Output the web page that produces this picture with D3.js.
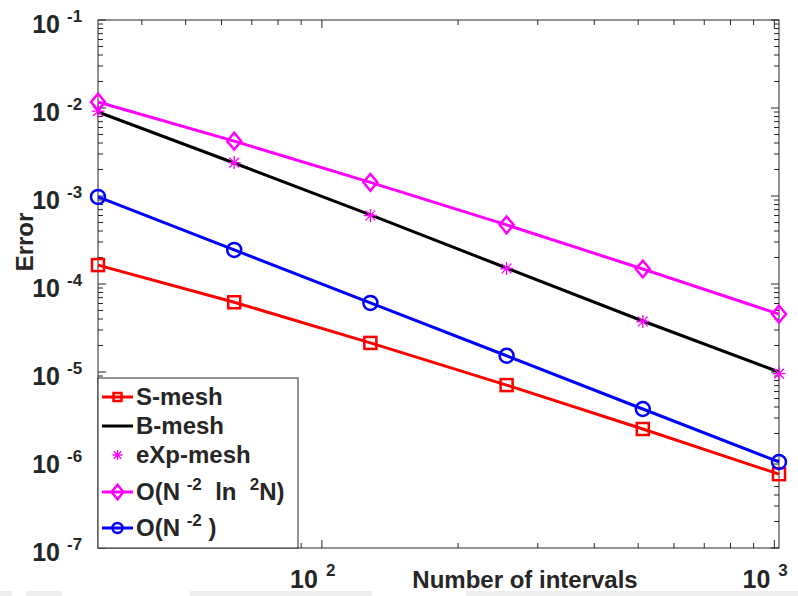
<!DOCTYPE html>
<html>
<head>
<meta charset="utf-8">
<script src="https://d3js.org/d3.v7.min.js"></script>
<style>
  body { margin: 0; background: #fff; }
  text { font-family: "Liberation Sans", Arial, sans-serif; font-weight: bold; fill: #262626; white-space: pre; }
</style>
</head>
<body>
<svg id="chart" width="798" height="596"></svg>
<script>
// number of intervals
var N = [32, 64, 128, 256, 512, 1024];
// errors
var sMesh   = [1.64e-4, 6.2e-5, 2.14e-5, 7.1e-6, 2.25e-6, 6.9e-7];
var bMesh   = [9.0e-3, 2.37e-3, 6.1e-4, 1.52e-4, 3.8e-5, 1.0e-5];
var expMesh = [9.2e-3, 2.4e-3, 6.0e-4, 1.5e-4, 3.75e-5, 9.6e-6];
var rateLog = [1.17e-2, 4.2e-3, 1.43e-3, 4.7e-4, 1.48e-4, 4.55e-5];
var rate2   = [9.77e-4, 2.44e-4, 6.1e-5, 1.53e-5, 3.8e-6, 9.5e-7];
var yExps = [-7, -6, -5, -4, -3, -2, -1];
var xExps = [2, 3];

var svg = d3.select("#chart");
var pLeft = 98, pRight = 779, pTop = 20, pBottom = 548;

var x = d3.scaleLog().domain([32, 1024]).range([pLeft, pRight]);
var y = d3.scaleLog().domain([1e-7, 1e-1]).range([pBottom, pTop]);

// faint strip at the very bottom of the screenshot
[[0, 12], [26, 62], [190, 372], [466, 798]].forEach(function (s) {
  svg.append("rect").attr("x", s[0]).attr("y", 591).attr("width", s[1] - s[0]).attr("height", 5)
    .attr("fill", "#ededed");
});

// ticks
var yMajor = yExps.map(function (e) { return Math.pow(10, e); });
var yMinor = [];
yExps.slice(0, -1).forEach(function (e) {
  for (var k = 2; k <= 9; k++) yMinor.push(k * Math.pow(10, e));
});
var xMajor = [100, 1000];
var xMinor = [40, 50, 60, 70, 80, 90, 200, 300, 400, 500, 600, 700, 800, 900];

var g = svg.append("g").attr("stroke", "#262626").attr("stroke-width", 1);
function yTicks(vals, len) {
  vals.forEach(function (v) {
    g.append("line").attr("x1", pLeft).attr("x2", pLeft + len).attr("y1", y(v)).attr("y2", y(v));
    g.append("line").attr("x1", pRight).attr("x2", pRight - len).attr("y1", y(v)).attr("y2", y(v));
  });
}
function xTicks(vals, len) {
  vals.forEach(function (v) {
    g.append("line").attr("x1", x(v)).attr("x2", x(v)).attr("y1", pBottom).attr("y2", pBottom - len);
    g.append("line").attr("x1", x(v)).attr("x2", x(v)).attr("y1", pTop).attr("y2", pTop + len);
  });
}
yTicks(yMajor, 8); yTicks(yMinor, 5);
xTicks(xMajor, 8); xTicks(xMinor, 5);

svg.append("rect").attr("x", pLeft).attr("y", pTop).attr("width", pRight - pLeft).attr("height", pBottom - pTop)
  .attr("fill", "none").attr("stroke", "#262626").attr("stroke-width", 1);

// tick labels
yExps.forEach(function (e) {
  svg.append("text").attr("x", 60).attr("y", y(Math.pow(10, e)) + 13)
    .attr("text-anchor", "end").style("font-size", "25px").text("10");
  svg.append("text").attr("x", 67).attr("y", y(Math.pow(10, e)) + 2)
    .style("font-size", "17px").text(String(e));
});
xExps.forEach(function (e) {
  var xv = x(Math.pow(10, e));
  svg.append("text").attr("x", xv - 4).attr("y", 588).attr("text-anchor", "end")
    .style("font-size", "25px").text("10");
  svg.append("text").attr("x", xv + 4).attr("y", 576).style("font-size", "17px").text(String(e));
});

svg.append("text").attr("x", 525).attr("y", 588).attr("text-anchor", "middle")
  .style("font-size", "24px").text("Number of intervals");
svg.append("text").attr("transform", "translate(33,242) rotate(-90)").attr("text-anchor", "middle")
  .style("font-size", "24px").text("Error");

// series
var line = d3.line().x(function (d) { return x(d[0]); }).y(function (d) { return y(d[1]); });
function pts(vals) { return N.map(function (n, i) { return [n, vals[i]]; }); }

function drawLine(vals, color) {
  svg.append("path").datum(pts(vals)).attr("d", line)
    .attr("fill", "none").attr("stroke", color).attr("stroke-width", 3);
}

function marker(gr, type, cx, cy, s, color) {
  if (type === "square") {
    gr.append("rect").attr("x", cx - s).attr("y", cy - s).attr("width", 2 * s).attr("height", 2 * s)
      .attr("fill", "none").attr("stroke", color).attr("stroke-width", 2.5);
  } else if (type === "circle") {
    gr.append("circle").attr("cx", cx).attr("cy", cy).attr("r", s)
      .attr("fill", "none").attr("stroke", color).attr("stroke-width", 2.5);
  } else if (type === "diamond") {
    var h = s * 1.2;
    gr.append("path").attr("d", "M" + cx + "," + (cy - h) + "L" + (cx + s) + "," + cy + "L" + cx + "," + (cy + h) + "L" + (cx - s) + "," + cy + "Z")
      .attr("fill", "none").attr("stroke", color).attr("stroke-width", 2.5);
  } else if (type === "star") {
    var d = s * 0.75;
    gr.append("path").attr("d",
      "M" + cx + "," + (cy - s) + "V" + (cy + s) +
      "M" + (cx - s) + "," + cy + "H" + (cx + s) +
      "M" + (cx - d) + "," + (cy - d) + "L" + (cx + d) + "," + (cy + d) +
      "M" + (cx - d) + "," + (cy + d) + "L" + (cx + d) + "," + (cy - d))
      .attr("fill", "none").attr("stroke", color).attr("stroke-width", 1.3);
  }
}

function drawMarkers(vals, type, s, color) {
  var gr = svg.append("g");
  pts(vals).forEach(function (p) { marker(gr, type, x(p[0]), y(p[1]), s, color); });
}

drawLine(sMesh, "#ff0000");
drawMarkers(sMesh, "square", 6, "#ff0000");
drawLine(bMesh, "#000000");
drawMarkers(expMesh, "star", 6.5, "#ff00ff");
drawLine(rateLog, "#ff00ff");
drawMarkers(rateLog, "diamond", 7, "#ff00ff");
drawLine(rate2, "#0000ff");
drawMarkers(rate2, "circle", 7, "#0000ff");

// legend
var lg = svg.append("g");
lg.append("rect").attr("x", pLeft).attr("y", 378).attr("width", 200).attr("height", 170)
  .attr("fill", "#fff").attr("stroke", "#262626").attr("stroke-width", 1);
var items = [
  { label: [["S-mesh"]], color: "#ff0000", line: true, mk: "square", s: 4, cy: 397 },
  { label: [["B-mesh"]], color: "#000000", line: true, mk: null, cy: 426 },
  { label: [["eXp-mesh"]], color: "#ff00ff", line: false, mk: "star", s: 5, cy: 455 },
  { label: [["O(N "], ["-2", 1], ["  ln  "], ["2", 1], ["N)"]], color: "#ff00ff", line: true, mk: "diamond", s: 6, cy: 492 },
  { label: [["O(N "], ["-2", 1], [" )"]], color: "#0000ff", line: true, mk: "circle", s: 5, cy: 528 }
];
items.forEach(function (it) {
  if (it.line) {
    lg.append("line").attr("x1", 102).attr("x2", 133).attr("y1", it.cy).attr("y2", it.cy)
      .attr("stroke", it.color).attr("stroke-width", 3);
  }
  if (it.mk) marker(lg, it.mk, 117.5, it.cy, it.s, it.color);
  var t = lg.append("text").attr("x", 136).attr("y", it.cy + 8).style("font-size", "24px");
  var acc = 0;
  it.label.forEach(function (p) {
    var ts = t.append("tspan").text(p[0]);
    if (p[1]) { ts.style("font-size", "17px").attr("dy", -10 - acc); acc = -10; }
    else { ts.attr("dy", -acc); acc = 0; }
  });
});
</script>
</body>
</html>
